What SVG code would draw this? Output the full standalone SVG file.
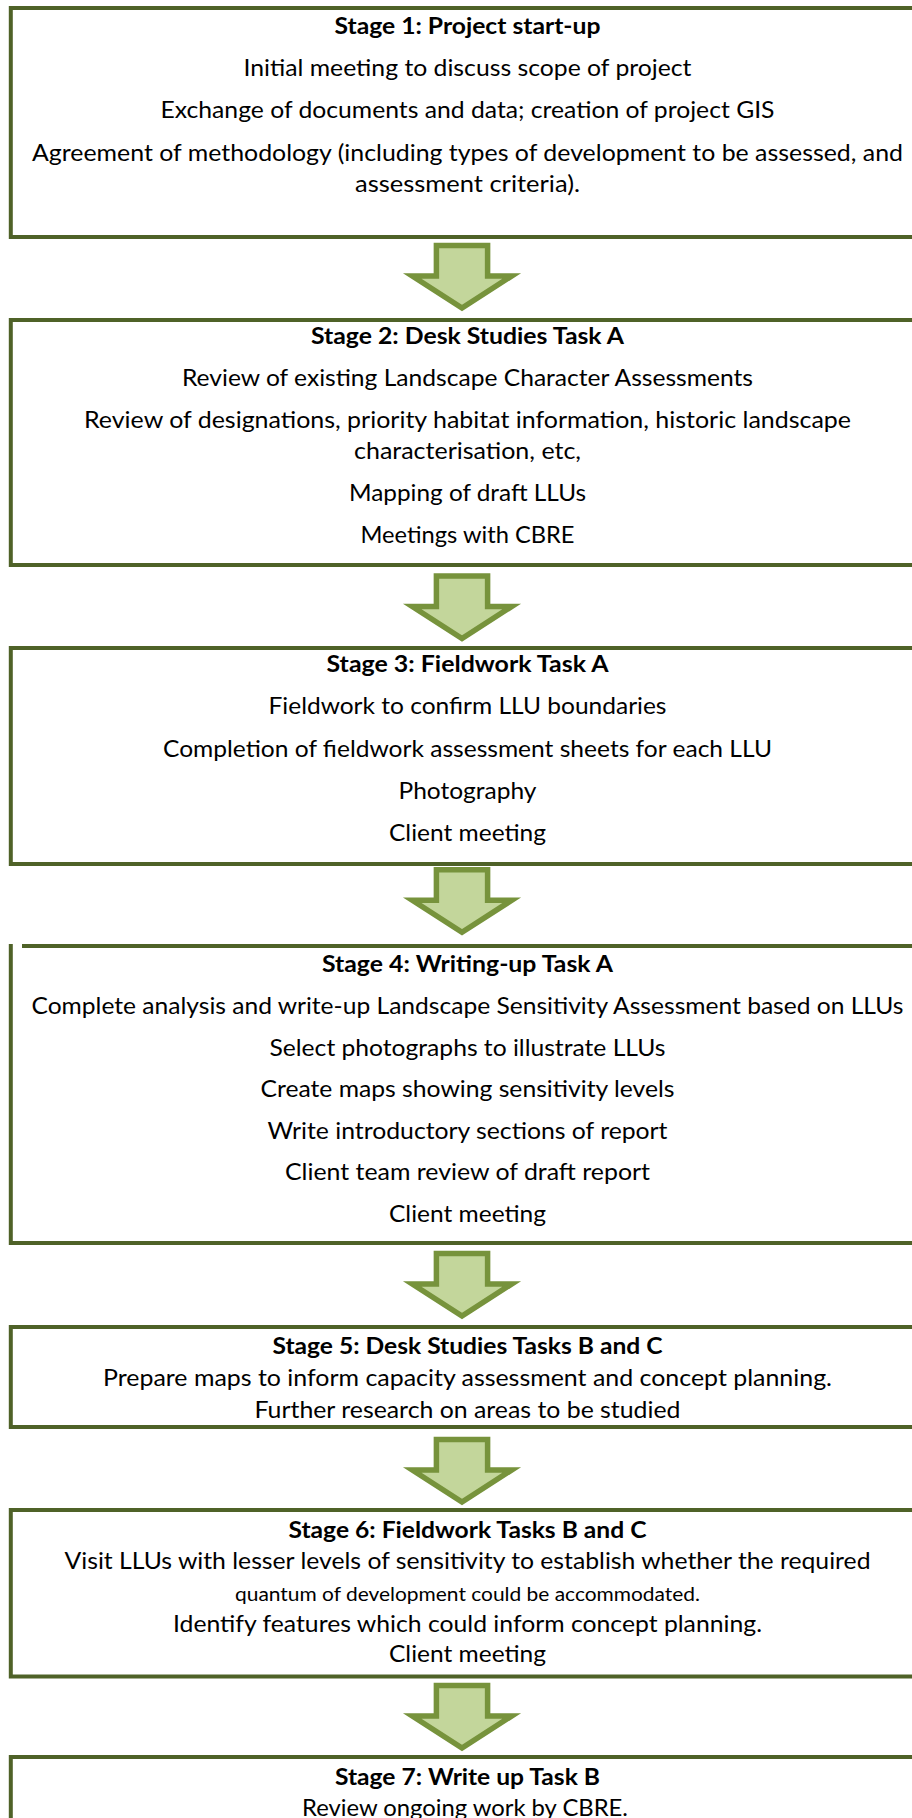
<svg xmlns="http://www.w3.org/2000/svg" width="912" height="1818" viewBox="0 0 912 1818">
<style>
.box{fill:#fff;stroke:#4F6228;stroke-width:4}
.ln{fill:none;stroke:#4F6228;stroke-width:4}
.arr{fill:#C3D69B;stroke:#77933C;stroke-width:5.5;stroke-linejoin:miter}
text{font-family:Lato,"Liberation Sans",sans-serif;font-size:23.5px;fill:#000;text-anchor:middle}
.t{font-weight:bold}
.sm{font-size:19.5px}
</style>
<defs>
<path id="arrow" class="arr" d="M436.4,0 H487.6 V30.5 H511.7 L462,62.5 L412.3,30.5 H436.4 Z"/>
</defs>
<rect width="912" height="1818" fill="#fff"/>
<g id="connectors">
<use href="#arrow" transform="translate(0,245.5)"/>
<use href="#arrow" transform="translate(0,576)"/>
<use href="#arrow" transform="translate(0,869.8)"/>
<use href="#arrow" transform="translate(0,1253.5)"/>
<use href="#arrow" transform="translate(0,1439.5)"/>
<use href="#arrow" transform="translate(0,1685.5)"/>
</g>
<g id="stage1">
<rect class="box" x="10.8" y="8" width="930" height="229"/>
<text class="t" x="467.5" y="33.5" textLength="266" lengthAdjust="spacingAndGlyphs">Stage 1: Project start-up</text>
<text x="467.5" y="75.5" textLength="448" lengthAdjust="spacingAndGlyphs">Initial meeting to discuss scope of project</text>
<text x="467.5" y="117.5" textLength="614" lengthAdjust="spacingAndGlyphs">Exchange of documents and data; creation of project GIS</text>
<text x="467.5" y="160.5" textLength="871" lengthAdjust="spacingAndGlyphs">Agreement of methodology (including types of development to be assessed, and</text>
<text x="467.5" y="192" textLength="225" lengthAdjust="spacingAndGlyphs">assessment criteria).</text>
</g>
<g id="stage2">
<rect class="box" x="10.8" y="320" width="930" height="245"/>
<text class="t" x="467.5" y="343.5" textLength="313" lengthAdjust="spacingAndGlyphs">Stage 2: Desk Studies Task A</text>
<text x="467.5" y="386" textLength="571" lengthAdjust="spacingAndGlyphs">Review of existing Landscape Character Assessments</text>
<text x="467.5" y="428" textLength="767" lengthAdjust="spacingAndGlyphs">Review of designations, priority habitat information, historic landscape</text>
<text x="467.5" y="459" textLength="227" lengthAdjust="spacingAndGlyphs">characterisation, etc,</text>
<text x="467.5" y="501" textLength="237" lengthAdjust="spacingAndGlyphs">Mapping of draft LLUs</text>
<text x="467.5" y="543" textLength="214" lengthAdjust="spacingAndGlyphs">Meetings with CBRE</text>
</g>
<g id="stage3">
<rect class="box" x="10.8" y="648" width="930" height="216"/>
<text class="t" x="467.5" y="672" textLength="282" lengthAdjust="spacingAndGlyphs">Stage 3: Fieldwork Task A</text>
<text x="467.5" y="714" textLength="398" lengthAdjust="spacingAndGlyphs">Fieldwork to confirm LLU boundaries</text>
<text x="467.5" y="756.5" textLength="609" lengthAdjust="spacingAndGlyphs">Completion of fieldwork assessment sheets for each LLU</text>
<text x="467.5" y="798.5" textLength="138" lengthAdjust="spacingAndGlyphs">Photography</text>
<text x="467.5" y="840.5" textLength="157" lengthAdjust="spacingAndGlyphs">Client meeting</text>
</g>
<g id="stage4">
<rect x="10.8" y="946" width="930" height="297" fill="#fff"/>
<path class="ln" d="M22,946 H930 M10.8,944 V1243 H930"/>
<text class="t" x="467.5" y="972" textLength="291" lengthAdjust="spacingAndGlyphs">Stage 4: Writing-up Task A</text>
<text x="467.5" y="1013.5" textLength="872" lengthAdjust="spacingAndGlyphs">Complete analysis and write-up Landscape Sensitivity Assessment based on LLUs</text>
<text x="467.5" y="1055.5" textLength="396" lengthAdjust="spacingAndGlyphs">Select photographs to illustrate LLUs</text>
<text x="467.5" y="1097" textLength="414" lengthAdjust="spacingAndGlyphs">Create maps showing sensitivity levels</text>
<text x="467.5" y="1138.5" textLength="400" lengthAdjust="spacingAndGlyphs">Write introductory sections of report</text>
<text x="467.5" y="1180" textLength="365" lengthAdjust="spacingAndGlyphs">Client team review of draft report</text>
<text x="467.5" y="1221.5" textLength="157" lengthAdjust="spacingAndGlyphs">Client meeting</text>
</g>
<g id="stage5">
<rect class="box" x="10.8" y="1327" width="930" height="100"/>
<text class="t" x="467.5" y="1353.5" textLength="390" lengthAdjust="spacingAndGlyphs">Stage 5: Desk Studies Tasks B and C</text>
<text x="467.5" y="1385.5" textLength="729" lengthAdjust="spacingAndGlyphs">Prepare maps to inform capacity assessment and concept planning.</text>
<text x="467.5" y="1417.5" textLength="426" lengthAdjust="spacingAndGlyphs">Further research on areas to be studied</text>
</g>
<g id="stage6">
<rect class="box" x="10.8" y="1510" width="930" height="166.5"/>
<text class="t" x="467.5" y="1537.5" textLength="358" lengthAdjust="spacingAndGlyphs">Stage 6: Fieldwork Tasks B and C</text>
<text x="467.5" y="1569" textLength="806" lengthAdjust="spacingAndGlyphs">Visit LLUs with lesser levels of sensitivity to establish whether the required</text>
<text class="sm" x="467.5" y="1600.5" textLength="465" lengthAdjust="spacingAndGlyphs">quantum of development could be accommodated.</text>
<text x="467.5" y="1632" textLength="589" lengthAdjust="spacingAndGlyphs">Identify features which could inform concept planning.</text>
<text x="467.5" y="1662" textLength="157" lengthAdjust="spacingAndGlyphs">Client meeting</text>
</g>
<g id="stage7">
<rect class="box" x="10.8" y="1757" width="930" height="100"/>
<text class="t" x="467.5" y="1785" textLength="265" lengthAdjust="spacingAndGlyphs">Stage 7: Write up Task B</text>
<text x="465" y="1816" textLength="326" lengthAdjust="spacingAndGlyphs">Review ongoing work by CBRE.</text>
</g>
</svg>
